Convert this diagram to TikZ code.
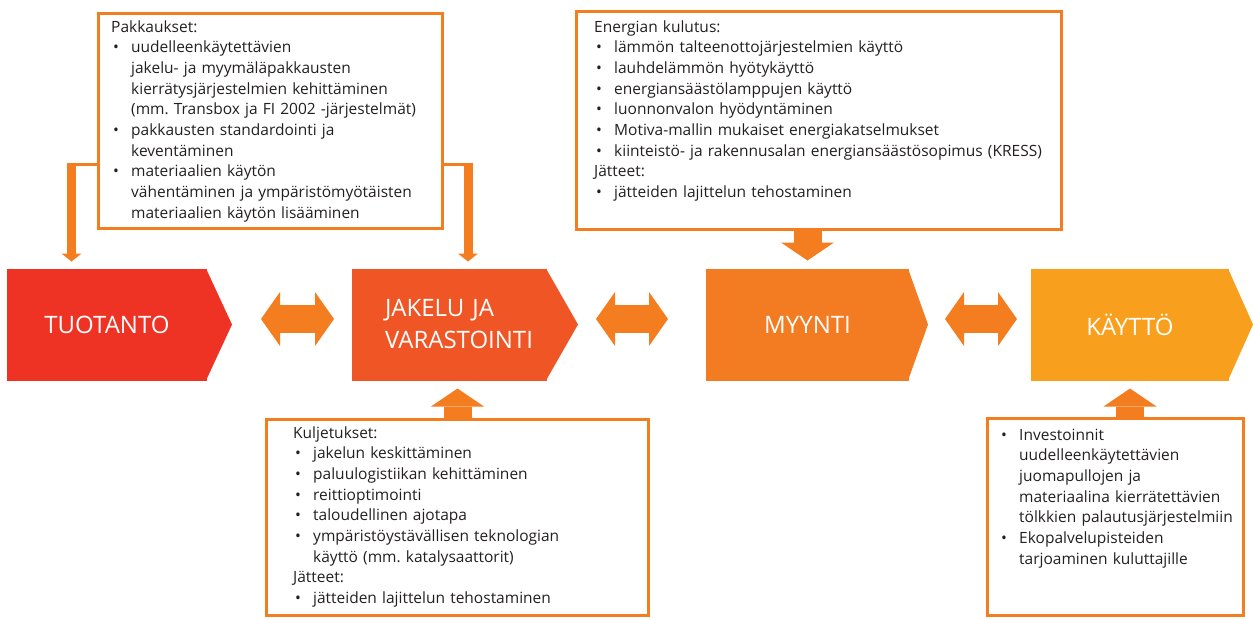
\documentclass[tikz,border=0pt]{standalone}
\usepackage{fontspec}
\setmainfont{Open Sans}
\usetikzlibrary{calc,positioning,arrows.meta}

\definecolor{tuoRed}{RGB}{238,50,36}
\definecolor{jakOrange}{RGB}{240,86,37}
\definecolor{myyOrange}{RGB}{243,123,33}
\definecolor{kayOrange}{RGB}{248,159,29}
\definecolor{lineOrange}{RGB}{244,125,32}
\definecolor{textGrey}{RGB}{35,31,32}

\newcommand{\bul}{\hspace*{2pt}\makebox[18pt][l]{\textbullet}}
\newcommand{\cont}{\hspace*{20pt}}
\frenchspacing

\begin{document}
\begin{tikzpicture}[x=1pt,y=-1pt]

\tikzset{stagenode/.style={font=\fontsize{24}{32}\selectfont,text=white,inner sep=0pt,outer sep=0pt,minimum height=112pt},
notebox/.style={draw=lineOrange,line width=3pt,inner sep=0pt,outer sep=0pt},
notetext/.style={font=\fontsize{15.5}{20.7}\selectfont,text=textGrey,align=left,inner sep=0pt,anchor=base west,text width=#1},
link/.style={draw=lineOrange,line width=3pt},
thinarrow/.style={draw=lineOrange,line width=9pt,shorten >=7pt,-{Triangle[width=20pt,length=8pt,line width=0pt]}},
blockarrow/.style={draw=lineOrange,line width=28pt,shorten >=8pt,-{Triangle[width=53pt,length=18pt,line width=0pt]}},
dblarrow/.style={draw=lineOrange,line width=28pt,{Triangle[width=54pt,length=19pt,line width=0pt]}-{Triangle[width=54pt,length=19pt,line width=0pt]}}}

\useasboundingbox (0,0) rectangle (1253,619);

% Stage nodes
\node[stagenode,fill=tuoRed,minimum width=200pt] (tuo) at (107,324.5) {TUOTANTO};
\node[stagenode,fill=jakOrange,minimum width=195pt,text width=129pt,align=left] (jak) at (449.5,324.5) {JAKELU JA\\\mbox{VARASTOINTI}};
\node[stagenode,fill=myyOrange,minimum width=203pt] (myy) at (807.5,324.5) {MYYNTI};
\node[stagenode,fill=kayOrange,minimum width=198pt] (kay) at (1130,324.5) {KÄYTTÖ};

% Chevron points
\fill[tuoRed] ([xshift=-1pt]tuo.north east) -- ($(tuo.east)+(25,0)$) -- ([xshift=-1pt]tuo.south east) -- cycle;
\fill[jakOrange] ([xshift=-1pt]jak.north east) -- ($(jak.east)+(31,0)$) -- ([xshift=-1pt]jak.south east) -- cycle;
\fill[myyOrange] ([xshift=-1pt]myy.north east) -- ($(myy.east)+(19,0)$) -- ([xshift=-1pt]myy.south east) -- cycle;
\fill[kayOrange] ([xshift=-1pt]kay.north east) -- ($(kay.east)+(24,0)$) -- ([xshift=-1pt]kay.south east) -- cycle;

% Note boxes
\node[notebox,minimum width=344pt,minimum height=215pt] (pak) at (270.5,121) {};
\node[notebox,minimum width=485pt,minimum height=218pt] (ene) at (819,120.5) {};
\node[notebox,minimum width=382pt,minimum height=196pt] (kul) at (457.5,517.5) {};
\node[notebox,minimum width=256pt,minimum height=197pt] (kyt) at (1115.5,517) {};

% Box texts
\node[notetext=400pt] (pakText) at (111,32) {Pakkaukset:\\
\bul uudelleenkäytettävien\\
\cont jakelu- ja myymäläpakkausten\\
\cont kierrätysjärjestelmien kehittäminen\\
\cont (mm. Transbox ja FI 2002 -järjestelmät)\\
\bul pakkausten standardointi ja\\
\cont keventäminen\\
\bul materiaalien käytön\\
\cont vähentäminen ja ympäristömyötäisten\\
\cont materiaalien käytön lisääminen};
\node[notetext=520pt] (eneText) at (594,32) {Energian kulutus:\\
\bul lämmön talteenottojärjestelmien käyttö\\
\bul lauhdelämmön hyötykäyttö\\
\bul energiansäästölamppujen käyttö\\
\bul luonnonvalon hyödyntäminen\\
\bul Motiva-mallin mukaiset energiakatselmukset\\
\bul kiinteistö- ja rakennusalan energiansäästösopimus (KRESS)\\
Jätteet:\\
\bul jätteiden lajittelun tehostaminen};
\node[notetext=400pt] (kulText) at (293,438) {Kuljetukset:\\
\bul jakelun keskittäminen\\
\bul paluulogistiikan kehittäminen\\
\bul reittioptimointi\\
\bul taloudellinen ajotapa\\
\bul ympäristöystävällisen teknologian\\
\cont käyttö (mm. katalysaattorit)\\
Jätteet:\\
\bul jätteiden lajittelun tehostaminen};
\node[notetext=320pt] (kytText) at (999,440) {\bul Investoinnit\\
\cont uudelleenkäytettävien\\
\cont juomapullojen ja\\
\cont materiaalina kierrätettävien\\
\cont tölkkien palautusjärjestelmiin\\
\bul Ekopalvelupisteiden\\
\cont tarjoaminen kuluttajille};

% Connectors
\coordinate (pakL) at (71.5,164);
\coordinate (pakR) at (468,164);
\draw[link] (pak.west |- pakL) -- ([xshift=4.5pt]pakL);
\draw[thinarrow] ([yshift=1.5pt]pakL) -- (pakL |- tuo.north);
\draw[link] (pak.east |- pakR) -- ([xshift=-4.5pt]pakR);
\draw[thinarrow] ([yshift=1.5pt]pakR) -- (pakR |- jak.north);
\draw[blockarrow] (ene.south -| myy.north) -- (myy.north);
\draw[blockarrow] (kul.north) -- (kul.north |- jak.south);
\draw[blockarrow] (kay.south |- kyt.north) -- (kay.south);

% Double arrows
\draw[dblarrow,shorten <=54pt,shorten >=18pt] ([yshift=5.5pt]tuo.east) -- ([yshift=5.5pt]jak.west);
\draw[dblarrow,shorten <=49pt,shorten >=38pt] ([yshift=5.5pt]jak.east) -- ([yshift=5.5pt]myy.west);
\draw[dblarrow,shorten <=36pt,shorten >=14pt] ([yshift=5.5pt]myy.east) -- ([yshift=5.5pt]kay.west);

\end{tikzpicture}
\end{document}
